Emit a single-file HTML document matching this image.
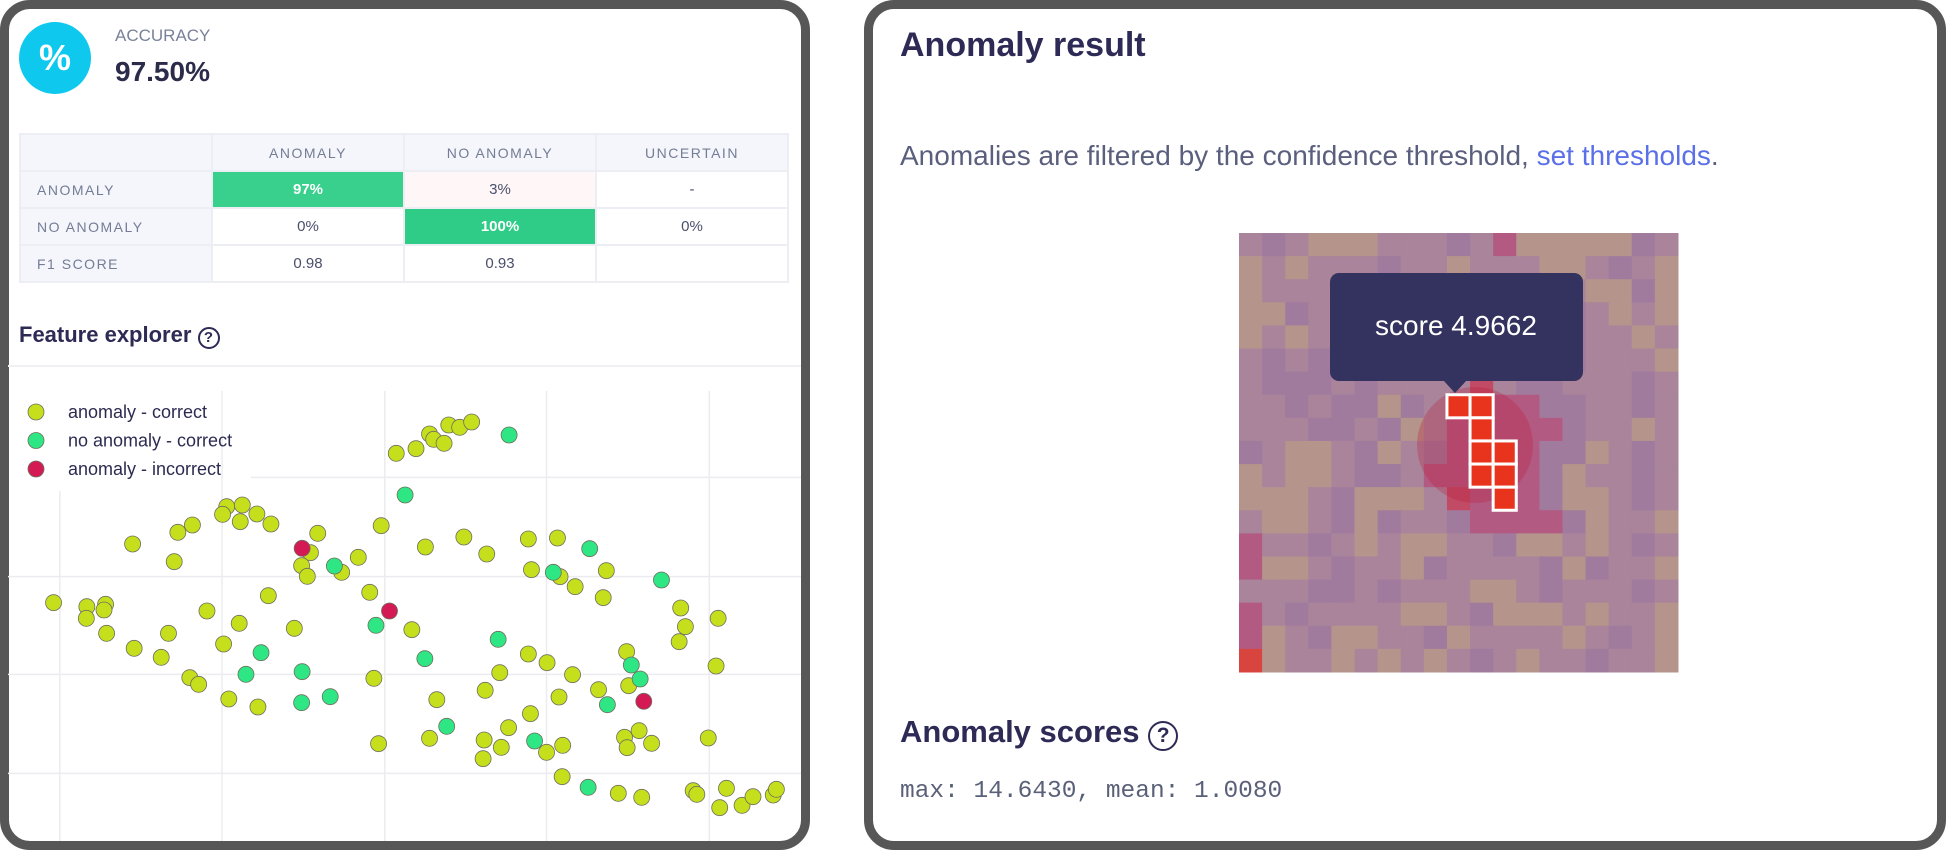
<!DOCTYPE html>
<html><head><meta charset="utf-8">
<style>
body{margin:0;width:1946px;height:850px;background:#fff;position:relative;overflow:hidden;font-family:"Liberation Sans",sans-serif;}
.panel{position:absolute;border:9px solid #575757;border-radius:30px;box-sizing:border-box;background:#fff;}
.abs{position:absolute;}
table{border-collapse:collapse;position:absolute;left:19px;top:133px;width:770px;table-layout:fixed;}
td{border:2px solid #eceef4;height:35px;text-align:center;font-size:15px;color:#4a4f6a;padding:0;}
td.h{background:#f4f6fb;color:#747c96;letter-spacing:1.5px;font-size:14px;}
td.l{background:#f4f6fb;color:#747c96;letter-spacing:1.5px;font-size:14px;text-align:left;padding-left:16px;}
td.g{background:#38d08c;color:#fff;font-weight:bold;}
.q{display:inline-block;border:2.5px solid #2d2b55;border-radius:50%;text-align:center;font-weight:bold;box-sizing:border-box;}
</style></head><body>
<div class="panel" style="left:0;top:0;width:810px;height:850px;"></div>
<div class="panel" style="left:864px;top:0;width:1082px;height:850px;"></div>

<div class="abs" style="left:19px;top:22px;width:72px;height:72px;border-radius:50%;background:#0ec8ee;color:#fff;font-size:36px;font-weight:bold;text-align:center;line-height:72px;">%</div>
<div class="abs" style="left:115px;top:26px;font-size:17px;color:#7a8299;">ACCURACY</div>
<div class="abs" style="left:115px;top:56px;font-size:28px;font-weight:bold;color:#2b2b4a;">97.50%</div>

<table>
<tr><td class="h"></td><td class="h">ANOMALY</td><td class="h">NO ANOMALY</td><td class="h">UNCERTAIN</td></tr>
<tr><td class="l">ANOMALY</td><td class="g">97%</td><td style="background:#fff7f7">3%</td><td>-</td></tr>
<tr><td class="l">NO ANOMALY</td><td>0%</td><td class="g" style="background:#2ecc87">100%</td><td>0%</td></tr>
<tr><td class="l">F1 SCORE</td><td>0.98</td><td>0.93</td><td></td></tr>
</table>

<div class="abs" style="left:19px;top:322px;font-size:22px;font-weight:bold;color:#2d2b55;">Feature explorer <span class="q" style="width:22px;height:22px;font-size:15px;line-height:18px;">?</span></div>
<div class="abs" style="left:8px;top:365px;width:793px;height:2px;background:#eef0f3;"></div>

<svg id="scatter" class="abs" style="left:0;top:0" width="810" height="850"></svg>

<div class="abs" style="left:900px;top:26px;font-size:34px;font-weight:bold;color:#2d2b55;">Anomaly result</div>
<div class="abs" style="left:900px;top:140px;font-size:28px;color:#5a5f7e;">Anomalies are filtered by the confidence threshold, <span style="color:#5a6fe8;">set thresholds</span>.</div>

<svg id="heat" class="abs" style="left:1239px;top:233px;overflow:visible" width="439" height="439"></svg>

<div class="abs" style="left:900px;top:714px;font-size:31px;font-weight:bold;color:#2d2b55;">Anomaly scores <span class="q" style="width:30px;height:30px;font-size:21px;line-height:25px;">?</span></div>
<div class="abs" style="left:900px;top:778px;font-size:24.5px;font-family:'Liberation Mono',monospace;color:#5a6078;">max: 14.6430, mean: 1.0080</div>

<script>
// scatter data (feature space units)
const yellowX=[762,800,826,834,854,863,884,907,436,466,428,462,494,521,370,342,255,335,611,597,580,591,657,689,733,818,892,936,1016,1072,1022,1077,1106,1166,1160,516,711,103,167,166,203,200,205,258,310,324,398,460,430,566,792,365,382,440,496,719,840,933,961,1016,1052,1101,1075,1151,1205,1209,1309,1318,1306,1381,1377,1020,978,931,964,929,826,728,1051,1082,1201,1206,1229,1253,1362,1081,1189,1234,1333,1340,1397,1384,1427,1448,1487,1493];
const yellowY=[280,266,222,238,250,195,202,186,440,435,463,485,462,492,495,517,552,605,520,578,617,649,637,592,497,561,531,582,537,534,629,650,680,632,713,707,697,728,740,775,733,750,820,865,892,820,753,790,852,805,809,953,973,1017,1041,955,1019,991,938,882,908,944,1011,989,875,977,744,800,845,775,918,1061,1103,1140,1162,1196,1135,1151,1177,1156,1132,1163,1112,1150,1134,1250,1300,1312,1292,1303,1285,1343,1336,1310,1305,1288];
const tealX=[979,779,643,1134,1064,1272,723,958,817,502,473,581,580,635,1214,1231,1168,859,1028,1131];
const tealY=[225,405,618,566,637,660,796,838,896,878,943,935,1028,1010,915,957,1034,1099,1143,1282];
const redX=[581,749,1238];
const redY=[565,753,1024];
const xGrid=[115,427,740,1051,1364];
const yGrid=[352,650,943,1240];
const sx=v=>v/1.923, sy=v=>360+v/3;
const NS='http://www.w3.org/2000/svg';
const svg=document.getElementById('scatter');
function mk(t,a){const e=document.createElementNS(NS,t);for(const k in a)e.setAttribute(k,a[k]);return e;}
xGrid.forEach((g,i)=>{const e=mk('line',{x1:sx(g),x2:sx(g),y1:i==0?491:391,y2:841,stroke:'#ececf0','stroke-width':1.5});

svg.appendChild(e);});
yGrid.forEach((g,i)=>{const e=mk('line',{x1:i==0?251:8,x2:801,y1:sy(g),y2:sy(g),stroke:'#ececf0','stroke-width':1.5});

svg.appendChild(e);});
function series(X,Y,fill,name){X.forEach((x,i)=>{const c=mk('ellipse',{cx:sx(x),cy:sy(Y[i]),rx:8,ry:8,fill:fill,stroke:'#6e6e5e','stroke-width':0.8});

svg.appendChild(c);});}
series(yellowX,yellowY,'#c6df1c','point-anomaly-correct');
series(tealX,tealY,'#2ee683','point-no-anomaly-correct');
series(redX,redY,'#d41a55','point-anomaly-incorrect');
const legendLabels=['anomaly - correct','no anomaly - correct','anomaly - incorrect'];
const legendColors=['#c6df1c','#2ee683','#d41a55'];
legendLabels.forEach((l,i)=>{const y=412+i*28.5;
const c=mk('ellipse',{cx:36,cy:y,rx:8,ry:8,fill:legendColors[i],stroke:'#6e6e5e','stroke-width':0.8});

svg.appendChild(c);
const t=mk('text',{x:68,y:y+6,'font-size':18,fill:'#2b2b52','font-family':'Liberation Sans, sans-serif'});t.textContent=l;

svg.appendChild(t);});

// heatmap
const rows=["acabbbaaacadbbbbbca","babaaacaabaaabbacab","baaabaaaacabaaabbcb","bbcaaaacaaacaacabab","babacaaccaaaaccaaba","acacacaaaccaaacaaab","acccacaaaafaccaaaca","aacaccbcaffddccaaca","aaaccacbadfdddcaaba","cabbacbacdfddccbaca","babbaccadddddcbaaca","bbbacbbbafdddcbbaca","abbacbcaacddddcbaab","daacababbaacbbabaca","dbbacaabcaaaacbcaab","aaaccacaaabbacaaaca","dacaaaabbacbbbabaab","dbacbbaacbaaaabacab","ebaabababacabaacaab"];
const pal={a:'#a9849b',b:'#b5948c',c:'#a17b9d',d:'#b35a82',e:'#d8453f',f:'#c14a64'};
const hiCol=[9,10,10,10,11,10,11,11];
const hiRow=[7,7,8,9,9,10,10,11];
const h=document.getElementById('heat');const cs=439/19;
rows.forEach((r,ri)=>{[...r].forEach((ch,ci)=>{const e=mk('rect',{x:ci*cs,y:ri*cs,width:cs+0.5,height:cs+0.5,fill:pal[ch]});

h.appendChild(e);});});
const circ=mk('circle',{cx:236,cy:212,r:58,fill:'rgba(185,30,60,0.3)'});

h.appendChild(circ);
hiCol.forEach((c,i)=>{const e=mk('rect',{x:c*cs,y:hiRow[i]*cs,width:cs,height:cs,fill:'#e8341c',stroke:'#fff','stroke-width':3});

h.appendChild(e);});
const tip=mk('g',{});


tip.appendChild(mk('rect',{x:91,y:40,width:253,height:108,rx:9,fill:'#34325e'}));
tip.appendChild(mk('path',{d:'M204 147 L228 147 L216 160 Z',fill:'#34325e'}));
const tt=mk('text',{x:217,y:102,'text-anchor':'middle','font-size':28,fill:'#fff','font-family':'Liberation Sans, sans-serif'});tt.textContent='score 4.9662';tip.appendChild(tt);
h.appendChild(tip);
</script>
</body></html>
